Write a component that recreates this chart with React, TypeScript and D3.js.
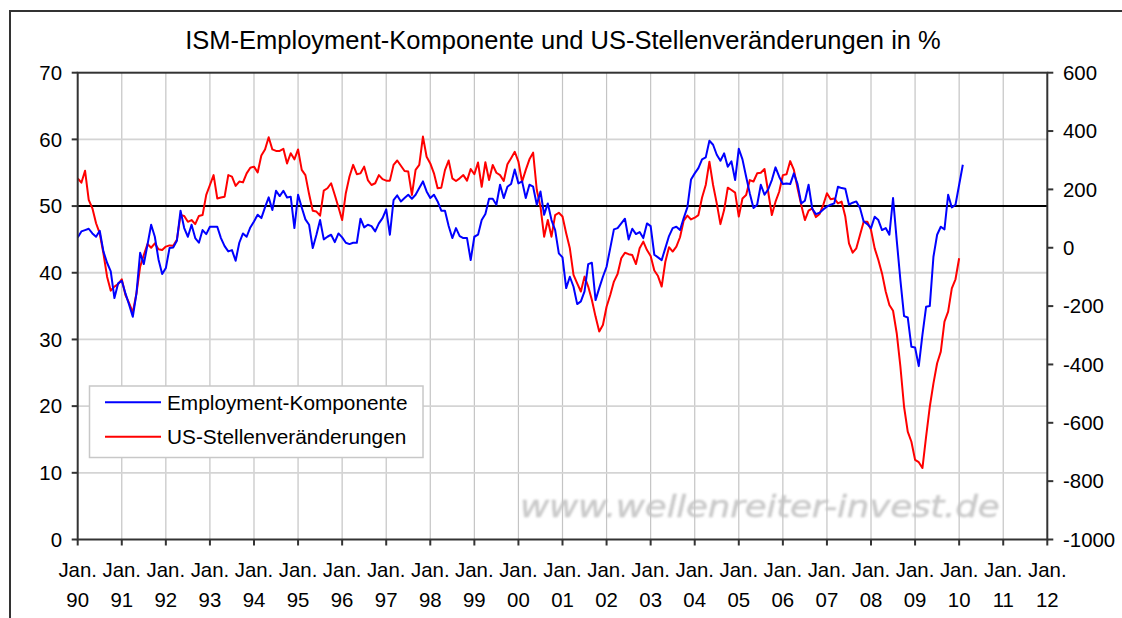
import * as d3 from "d3";
import { useEffect, useRef } from "react";

// ISM employment component, monthly from Jan 1990 (left axis)
const ismEmployment = [
  45.3, 46.2, 46.4, 46.6, 45.9, 45.4, 46.3, 43.2, 41.5, 40.2, 36.2, 38.4,
  38.8, 36.9, 35.2, 33.4, 36.9, 43.0, 41.3, 44.2, 47.2, 45.4, 42.0, 39.8,
  40.7, 43.7, 43.8, 44.8, 49.3, 46.7, 45.4, 47.2, 45.2, 44.5, 46.4, 45.8,
  46.9, 46.9, 46.9, 45.2, 44.0, 43.2, 43.4, 41.8, 44.5, 45.9, 45.4, 46.8,
  47.7, 48.7, 48.2, 49.8, 51.3, 49.4, 52.3, 51.5, 52.3, 51.3, 51.4, 46.7,
  51.7, 49.8, 48.0, 47.2, 43.7, 45.7, 47.9, 45.0, 45.4, 45.7, 44.6, 45.9,
  45.3, 44.5, 44.3, 44.5, 44.5, 48.1, 46.8, 47.2, 47.0, 46.2, 47.4, 48.2,
  49.5, 45.7, 50.9, 51.6, 50.7, 51.2, 51.7, 51.1, 51.7, 52.7, 53.7, 52.2,
  51.2, 51.7, 50.7, 49.3, 49.3, 47.0, 45.2, 46.7, 45.5, 45.2, 45.2, 41.9,
  45.4, 45.7, 47.9, 48.8, 51.1, 51.1, 50.2, 53.2, 51.2, 52.9, 53.3, 55.5,
  53.4, 53.7, 51.2, 53.2, 52.9, 50.2, 52.2, 48.7, 50.4, 47.9, 46.4, 42.9,
  42.3, 37.7, 39.4, 37.9, 35.3, 35.7, 37.2, 41.3, 41.5, 35.9, 37.7, 39.4,
  40.9, 43.7, 46.5, 46.7, 47.4, 48.1, 45.0, 46.6, 45.8, 46.1, 45.2, 47.4,
  47.0, 42.7, 42.3, 41.9, 43.7, 45.5, 46.7, 46.9, 46.4, 48.2, 49.8, 54.0,
  54.9, 55.7, 57.0, 57.3, 59.8, 59.2, 57.7, 56.8, 57.9, 55.9, 56.7, 53.9,
  58.6, 57.0, 54.4, 51.9, 49.7, 50.2, 53.2, 51.7, 52.5, 53.9, 55.8, 54.4,
  53.3, 53.4, 53.3, 54.9, 53.3, 50.4, 50.8, 53.2, 49.6, 48.8, 49.0, 49.5,
  49.9, 50.2, 50.4, 52.9, 52.7, 52.6, 50.2, 50.5, 50.7, 49.7, 47.7, 47.3,
  46.7, 48.4, 47.9, 46.4, 46.7, 45.7, 51.2, 44.9, 38.9, 33.5, 33.3, 28.9,
  28.8, 26.0, 30.7, 34.9, 35.0, 42.4, 45.7, 46.9, 46.5, 51.7, 49.8, 50.2,
  53.2, 56.2,
];

// US payroll changes, monthly from Jan 1990 (right axis)
const payrollChange = [
  238, 223, 264, 164, 135, 84, 49, -19, -99, -147, -133, -125,
  -108, -162, -190, -222, -156, -65, -25, 13, 0, 15, -5, -8,
  4, 8, 7, 27, 112, 109, 89, 95, 81, 109, 112, 181,
  215, 249, 169, 172, 175, 249, 244, 212, 227, 224, 255, 274,
  278, 258, 316, 337, 379, 337, 332, 332, 339, 289, 324, 303,
  337, 267, 249, 184, 127, 124, 110, 196, 204, 221, 181, 139,
  95, 187, 244, 284, 252, 255, 278, 232, 215, 221, 249, 235,
  230, 230, 284, 299, 281, 263, 261, 181, 267, 284, 381, 312,
  289, 255, 204, 206, 266, 299, 238, 229, 238, 249, 230, 270,
  252, 292, 209, 293, 232, 284, 257, 249, 229, 286, 307, 329,
  295, 226, 267, 303, 326, 198, 141, 38, 95, 38, 112, 120,
  107, 50, -2, -93, -122, -150, -99, -133, -179, -236, -287, -265,
  -202, -162, -116, -90, -36, -17, -22, -25, -56, -2, 21, -8,
  -28, -78, -97, -133, -48, 2, -13, 4, 36, 93, 110, 97,
  103, 112, 172, 215, 295, 215, 152, 81, 129, 206, 198, 189,
  107, 169, 181, 232, 227, 255, 257, 270, 192, 112, 158, 192,
  249, 252, 297, 267, 204, 147, 95, 127, 135, 105, 116, 147,
  187, 166, 169, 152, 158, 107, 15, -17, -2, 44, 89, 89,
  61, -2, -42, -88, -150, -196, -216, -293, -407, -545, -630, -665,
  -727, -735, -755, -647, -545, -465, -396, -356, -253, -219, -139, -108,
  -36,
];

const yearLabels = [
  "90", "91", "92", "93", "94", "95", "96", "97", "98", "99", "00", "01",
  "02", "03", "04", "05", "06", "07", "08", "09", "10", "11", "12",
];
const leftTicks = [0, 10, 20, 30, 40, 50, 60, 70];
const rightTicks = [-1000, -800, -600, -400, -200, 0, 200, 400, 600];
const seriesNames = ["Employment-Komponente", "US-Stellenveränderungen"];

const FONT = "'Liberation Sans', Arial, sans-serif";

export default function App() {
  const ref = useRef<SVGSVGElement>(null);

  useEffect(() => {
    const svg = d3.select(ref.current);
    svg.selectAll("*").remove();

    const left = 77.7, right = 1047.3, top = 72.7, bottom = 539.5;
    const x = d3.scaleLinear().domain([0, 264]).range([left, right]);
    const yL = d3.scaleLinear().domain([0, 70]).range([bottom, top]);
    const yR = d3.scaleLinear().domain([-1000, 600]).range([bottom, top]);

    svg.append("rect").attr("width", 1122).attr("height", 618).attr("fill", "#fff");

    // outer chart frame
    svg.append("path")
      .attr("d", "M10,620 L10,11 L1124,11")
      .attr("fill", "none").attr("stroke", "#333").attr("stroke-width", 2);

    // title
    svg.append("text")
      .attr("x", 563).attr("y", 48.5)
      .attr("text-anchor", "middle")
      .attr("font-family", FONT).attr("font-size", 25.5)
      .text("ISM-Employment-Komponente und US-Stellenveränderungen in %");

    // watermark (under the gridlines)
    const defs = svg.append("defs");
    defs.append("filter").attr("id", "wm")
      .append("feGaussianBlur").attr("stdDeviation", 0.9);
    svg.append("text")
      .attr("transform", "translate(520,517) scale(1.17,1)")
      .attr("font-family", "'DejaVu Sans', Verdana, sans-serif")
      .attr("font-style", "oblique")
      .attr("font-size", 30.5)
      .attr("textLength", 410).attr("lengthAdjust", "spacing")
      .attr("fill", "#cacaca")
      .attr("stroke", "#cacaca").attr("stroke-width", 0.5)
      .attr("filter", "url(#wm)")
      .text("www.wellenreiter-invest.de");

    // gridlines
    const months = d3.range(12, 264, 12);
    svg.append("g").selectAll("line").data(months).join("line")
      .attr("x1", (d) => x(d)).attr("x2", (d) => x(d))
      .attr("y1", top).attr("y2", bottom)
      .attr("stroke", "#c4c4c4").attr("stroke-width", 1.2);
    svg.append("g").selectAll("line").data(leftTicks.slice(1, -1)).join("line")
      .attr("x1", left).attr("x2", right)
      .attr("y1", (d) => yL(d)).attr("y2", (d) => yL(d))
      .attr("stroke", "#d4d4d4").attr("stroke-width", 1.8);

    // reference line at 50
    svg.append("line")
      .attr("x1", left).attr("x2", right)
      .attr("y1", yL(50)).attr("y2", yL(50))
      .attr("stroke", "#000").attr("stroke-width", 2);

    // series
    const lineL = d3.line<number>().x((_, i) => x(i)).y((d) => yL(d));
    const lineR = d3.line<number>().x((_, i) => x(i)).y((d) => yR(d));
    svg.append("path").datum(payrollChange)
      .attr("d", lineR).attr("fill", "none")
      .attr("stroke", "#ff0000").attr("stroke-width", 2)
      .attr("stroke-linejoin", "round");
    svg.append("path").datum(ismEmployment)
      .attr("d", lineL).attr("fill", "none")
      .attr("stroke", "#0000ff").attr("stroke-width", 2)
      .attr("stroke-linejoin", "round");

    // plot border
    svg.append("rect")
      .attr("x", left).attr("y", top)
      .attr("width", right - left).attr("height", bottom - top)
      .attr("fill", "none").attr("stroke", "#333").attr("stroke-width", 2);

    // left axis
    const gl = svg.append("g").attr("font-family", FONT).attr("font-size", 20.4);
    gl.selectAll("line").data(leftTicks).join("line")
      .attr("x1", left - 6).attr("x2", left)
      .attr("y1", (d) => yL(d)).attr("y2", (d) => yL(d))
      .attr("stroke", "#333").attr("stroke-width", 2);
    gl.selectAll("text").data(leftTicks).join("text")
      .attr("x", 62).attr("y", (d) => yL(d)).attr("dy", "0.36em")
      .attr("text-anchor", "end")
      .text((d) => d);

    // right axis
    const gr = svg.append("g").attr("font-family", FONT).attr("font-size", 20.4);
    gr.selectAll("line").data(rightTicks).join("line")
      .attr("x1", right).attr("x2", right + 6)
      .attr("y1", (d) => yR(d)).attr("y2", (d) => yR(d))
      .attr("stroke", "#333").attr("stroke-width", 2);
    gr.selectAll("text").data(rightTicks).join("text")
      .attr("x", 1063).attr("y", (d) => yR(d)).attr("dy", "0.36em")
      .text((d) => d);

    // bottom axis
    const gb = svg.append("g").attr("font-family", FONT).attr("font-size", 20.4)
      .attr("text-anchor", "middle");
    gb.selectAll("line").data(yearLabels).join("line")
      .attr("x1", (_, i) => x(i * 12)).attr("x2", (_, i) => x(i * 12))
      .attr("y1", bottom).attr("y2", bottom + 6)
      .attr("stroke", "#333").attr("stroke-width", 2);
    gb.selectAll("text.jan").data(yearLabels).join("text").attr("class", "jan")
      .attr("x", (_, i) => x(i * 12)).attr("y", 577)
      .text("Jan.");
    gb.selectAll("text.yr").data(yearLabels).join("text").attr("class", "yr")
      .attr("x", (_, i) => x(i * 12)).attr("y", 607)
      .text((d) => d);

    // legend
    const lg = svg.append("g");
    lg.append("rect")
      .attr("x", 89.5).attr("y", 386).attr("width", 333.5).attr("height", 71.5)
      .attr("fill", "#fff").attr("stroke", "#c8c8c8").attr("stroke-width", 1.5);
    const colors = ["#0000ff", "#ff0000"];
    const rows = lg.selectAll("g").data(seriesNames).join("g")
      .attr("transform", (_, i) => `translate(0,${402.3 + i * 34.4})`);
    rows.append("line")
      .attr("x1", 105).attr("x2", 161).attr("y1", 0).attr("y2", 0)
      .attr("stroke", (_, i) => colors[i]).attr("stroke-width", 2);
    rows.append("text")
      .attr("x", 167).attr("y", 0).attr("dy", "0.36em")
      .attr("font-family", FONT).attr("font-size", 20.8)
      .text((d) => d);
  }, []);

  return (
    <svg
      ref={ref}
      width={1122}
      height={618}
      style={{ position: "absolute", left: 0, top: 0 }}
    />
  );
}
